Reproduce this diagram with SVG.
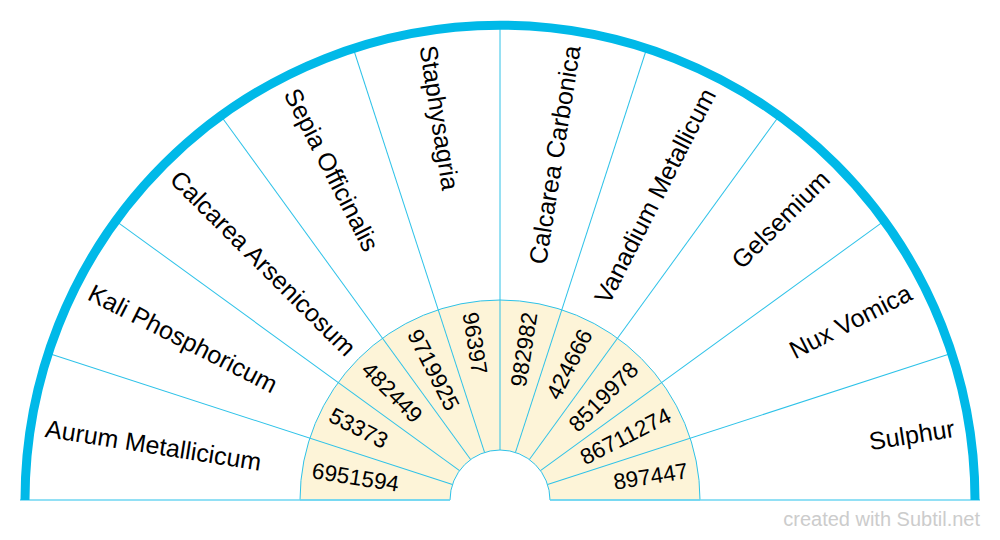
<svg xmlns="http://www.w3.org/2000/svg" width="1000" height="540" viewBox="0 0 1000 540">
<style>
.lbl{font-family:"Liberation Sans",Arial,sans-serif;font-size:25px;fill:#000}
.num{font-family:"Liberation Sans",Arial,sans-serif;font-size:22.5px;fill:#000}
.sp{stroke:#2ec2e8;stroke-width:1;fill:none}
</style>
<rect width="1000" height="540" fill="#fff"/>
<path d="M300 500 A200 200 0 0 1 700 500 L550 500 A50 50 0 0 0 450 500 Z" fill="#fdf4d8" stroke="#2ec2e8" stroke-width="1"/>
<g id="connectors">
<g transform="translate(500,500)">
<line class="sp" x1="50" y1="0" x2="475" y2="0" transform="rotate(-18)"/>
<line class="sp" x1="50" y1="0" x2="475" y2="0" transform="rotate(-36)"/>
<line class="sp" x1="50" y1="0" x2="475" y2="0" transform="rotate(-54)"/>
<line class="sp" x1="50" y1="0" x2="475" y2="0" transform="rotate(-72)"/>
<line class="sp" x1="50" y1="0" x2="475" y2="0" transform="rotate(-90)"/>
<line class="sp" x1="50" y1="0" x2="475" y2="0" transform="rotate(-108)"/>
<line class="sp" x1="50" y1="0" x2="475" y2="0" transform="rotate(-126)"/>
<line class="sp" x1="50" y1="0" x2="475" y2="0" transform="rotate(-144)"/>
<line class="sp" x1="50" y1="0" x2="475" y2="0" transform="rotate(-162)"/>
</g>
<path d="M20 500 H450 M550 500 H980" stroke="#6fd6f2" stroke-width="1.5" fill="none"/>
<path d="M25 500 A475 475 0 0 1 975 500" stroke="#00b9e8" stroke-width="9" fill="none"/>
</g>
<g id="n1" transform="translate(500,500) rotate(9)">
<text class="lbl" x="-460" y="0" dy="0.35em">Aurum Metallicicum</text>
<text class="num" x="-190" y="0" dy="0.35em">6951594</text>
</g>
<g id="n2" transform="translate(500,500) rotate(27)">
<text class="lbl" x="-460" y="0" dy="0.35em">Kali Phosphoricum</text>
<text class="num" x="-190" y="0" dy="0.35em">53373</text>
</g>
<g id="n3" transform="translate(500,500) rotate(45)">
<text class="lbl" x="-460" y="0" dy="0.35em">Calcarea Arsenicosum</text>
<text class="num" x="-190" y="0" dy="0.35em">482449</text>
</g>
<g id="n4" transform="translate(500,500) rotate(63)">
<text class="lbl" x="-460" y="0" dy="0.35em">Sepia Officinalis</text>
<text class="num" x="-190" y="0" dy="0.35em">9719925</text>
</g>
<g id="n5" transform="translate(500,500) rotate(81)">
<text class="lbl" x="-460" y="0" dy="0.35em">Staphysagria</text>
<text class="num" x="-190" y="0" dy="0.35em">96397</text>
</g>
<g id="n6" transform="translate(500,500) rotate(-81)">
<text class="lbl" x="460" y="0" dy="0.35em" text-anchor="end">Calcarea Carbonica</text>
<text class="num" x="190" y="0" dy="0.35em" text-anchor="end">982982</text>
</g>
<g id="n7" transform="translate(500,500) rotate(-63)">
<text class="lbl" x="460" y="0" dy="0.35em" text-anchor="end">Vanadium Metallicum</text>
<text class="num" x="190" y="0" dy="0.35em" text-anchor="end">424666</text>
</g>
<g id="n8" transform="translate(500,500) rotate(-45)">
<text class="lbl" x="460" y="0" dy="0.35em" text-anchor="end">Gelsemium</text>
<text class="num" x="190" y="0" dy="0.35em" text-anchor="end">8519978</text>
</g>
<g id="n9" transform="translate(500,500) rotate(-27)">
<text class="lbl" x="460" y="0" dy="0.35em" text-anchor="end">Nux Vomica</text>
<text class="num" x="190" y="0" dy="0.35em" text-anchor="end">86711274</text>
</g>
<g id="n10" transform="translate(500,500) rotate(-9)">
<text class="lbl" x="460" y="0" dy="0.35em" text-anchor="end">Sulphur</text>
<text class="num" x="190" y="0" dy="0.35em" text-anchor="end">897447</text>
</g>
<text x="980" y="526" text-anchor="end" font-family="Liberation Sans,Arial,sans-serif" font-size="20" fill="#cccccc">created with Subtil.net</text>
</svg>
